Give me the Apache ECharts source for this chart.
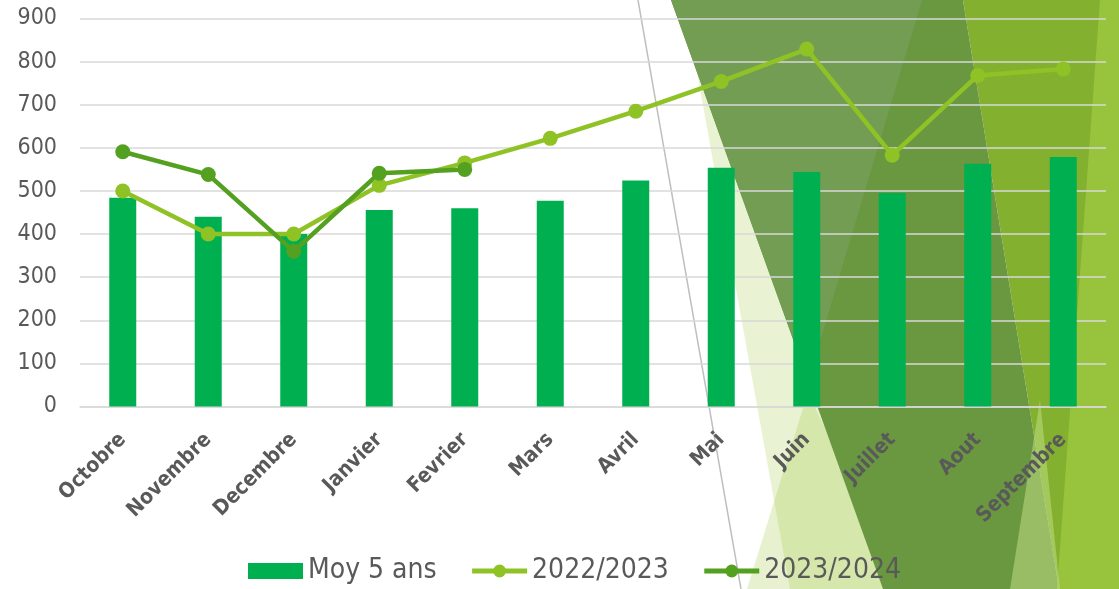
<!DOCTYPE html>
<html>
<head>
<meta charset="utf-8">
<script src="https://cdn.jsdelivr.net/npm/echarts@6/dist/echarts.min.js"></script>
<style>
html,body{margin:0;padding:0;background:#fff;}
#chart{width:1119px;height:589px;}
</style>
</head>
<body>
<div id="chart"></div>
<script>
var categories = ['Octobre','Novembre','Decembre','Janvier','Fevrier','Mars','Avril','Mai','Juin','Juillet','Aout','Septembre'];
var moy5ans = [484, 440, 400, 456, 460, 477, 524, 554, 544, 495, 563, 579];
var s2022 = [500, 400, 400, 513, 565, 622, 685, 754, 829, 583, 768, 783];
var s2023 = [591, 538, 360, 541, 550, null, null, null, null, null, null, null];
var seriesNames = ['Moy 5 ans', '2022/2023', '2023/2024'];

var FONT = "'DejaVu Sans Condensed','DejaVu Sans',sans-serif";
var TEXT = '#595959';
var C_BAR = '#00B050', C_22 = '#8FC225', C_23 = '#54A021';

function poly(points, fill, z) {
  return { type: 'polygon', shape: { points: points }, style: { fill: fill }, z: z, silent: true };
}

var bg = [
  poly([[671,0],[684,0],[790,589],[883,589]], 'rgba(146,193,37,0.2)', -100),
  poly([[808,392],[747,589],[900,589]], 'rgba(146,193,37,0.22)', -99),
  poly([[963,0],[1119,0],[1119,589],[1059,589]], '#84B030', -98),
  poly([[671,0],[963,0],[1059,589],[883,589]], '#6A9840', -97),
  poly([[671,0],[922,0],[808,381]], '#739D53', -96),
  poly([[1100,0],[1119,0],[1119,589],[1057,589]], '#97C43C', -95),
  poly([[1040,400],[1010,589],[1060,589]], 'rgba(190,220,130,0.55)', -94),
  { type: 'line', shape: { x1: 638, y1: 0, x2: 741, y2: 589 }, style: { stroke: '#BFBFBF', lineWidth: 1.5 }, z: -93, silent: true }
];

var chart = echarts.init(document.getElementById('chart'));
chart.setOption({
  animation: false,
  backgroundColor: '#fff',
  graphic: { elements: bg },
  grid: { left: 80, right: 13, top: 18.5, bottom: 182.5, containLabel: false },
  legend: {
    top: 557,
    left: 248,
    padding: 0,
    itemWidth: 55,
    itemHeight: 16,
    itemGap: 33,
    textStyle: { fontFamily: FONT, fontSize: 28, color: TEXT },
    data: [
      { name: seriesNames[0], icon: 'rect' },
      { name: seriesNames[1], lineStyle: { width: 5, color: C_22 } },
      { name: seriesNames[2], lineStyle: { width: 5, color: C_23 } }
    ]
  },
  xAxis: {
    type: 'category',
    data: categories,
    axisLine: { lineStyle: { color: '#D9D9D9', width: 1.5 } },
    axisTick: { show: false },
    axisLabel: { rotate: 45, interval: 0, margin: 30, fontFamily: FONT, fontWeight: 'bold', fontSize: 21, color: TEXT }
  },
  yAxis: {
    type: 'value',
    min: 0, max: 900, interval: 100,
    axisLine: { show: false },
    axisTick: { show: false },
    splitLine: { lineStyle: { color: '#D9D9D9', width: 1.5 } },
    axisLabel: { margin: 23, fontFamily: FONT, fontSize: 23, color: TEXT }
  },
  series: [
    {
      name: seriesNames[0], type: 'bar', data: moy5ans, barWidth: 27,
      itemStyle: { color: C_BAR }
    },
    {
      name: seriesNames[1], type: 'line', data: s2022,
      symbol: 'circle', symbolSize: 15,
      lineStyle: { color: C_22, width: 4.5 },
      itemStyle: { color: C_22 }
    },
    {
      name: seriesNames[2], type: 'line', data: s2023,
      symbol: 'circle', symbolSize: 15, connectNulls: false,
      lineStyle: { color: C_23, width: 4.5 },
      itemStyle: { color: C_23 }
    }
  ]
});
</script>
</body>
</html>
